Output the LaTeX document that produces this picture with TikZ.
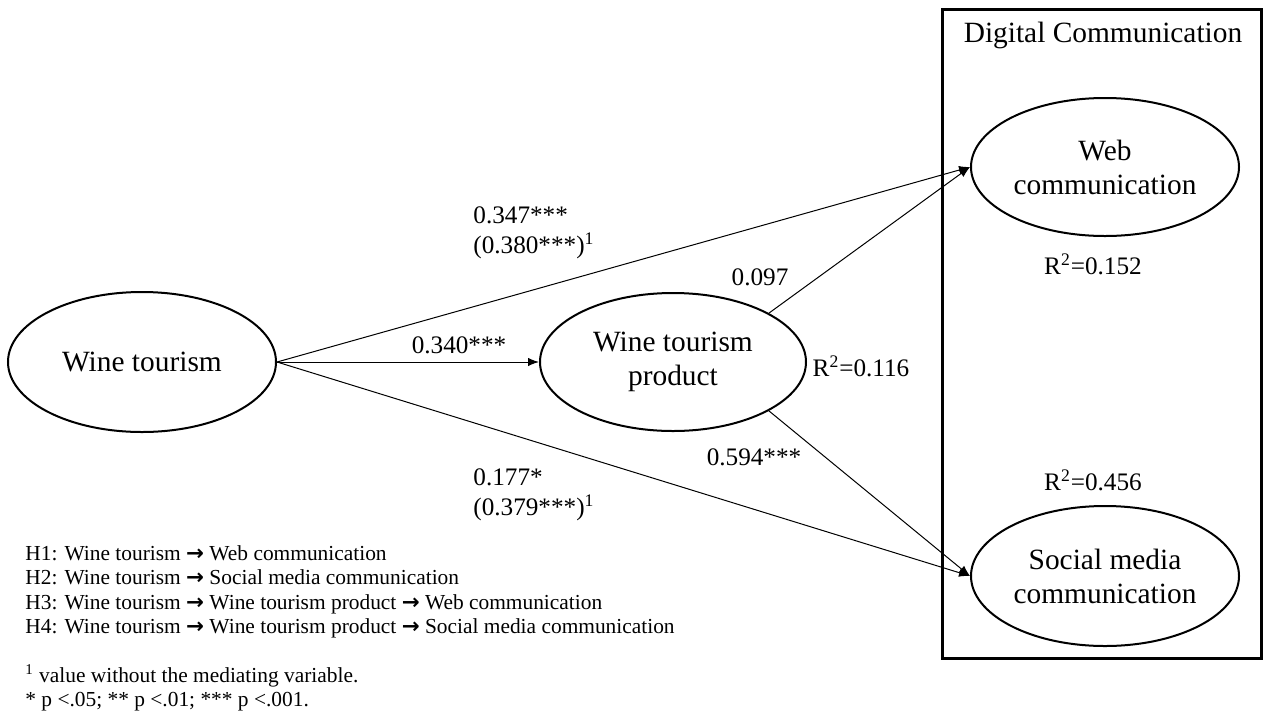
\documentclass[tikz,border=0pt]{standalone}
\usepackage{fontspec}
\setmainfont{Liberation Serif}
\newfontfamily\arrowfont{DejaVu Sans}
\usepackage{tikz}
\usetikzlibrary{positioning, calc}
\usetikzlibrary{arrows.meta,shapes.geometric}
\newcommand{\hto}{{\arrowfont\bfseries →}}
\begin{document}
\begin{tikzpicture}
    [x=0.5pt, y=-0.5pt,
    post/.style={-{Latex[length=5.5pt,width=4.2pt]},draw,line width=0.5pt},
    lat/.style={ellipse,draw,line width=1pt,inner sep=0pt,minimum width=134pt,minimum height=69pt,align=center,font=\fontsize{14.7}{17}\selectfont},
    est/.style={font=\fontsize{12.6}{15}\selectfont,inner sep=0pt,align=left},
    note/.style={font=\fontsize{10.7}{12.2}\selectfont,inner sep=0pt,align=left,anchor=west}]
    \useasboundingbox (0,0) rectangle (1269,713);
    \node [lat,minimum height=70pt] (Tourism) at (142,362) {Wine tourism};
    \node [lat,minimum width=133pt,right=131pt of Tourism] (Product) {Wine tourism\\product};
    \node [lat] (Web) at (1105,167) {Web\\communication};
    \node [lat,minimum height=70pt,below=134pt of Web] (Social) {Social media\\communication};
    \draw [line width=1.5pt] (942,9) rectangle (1261,658);
    \node [font=\fontsize{14.7}{17}\selectfont] (Digital) at (1103,35) {Digital Communication};
    \draw[post] (Tourism) -- (Product);
    \draw[post] (Tourism.east) -- (Web.west);
    \draw[post] (Tourism.east) -- (Social.west);
    \draw[post] (Product.27) -- (Web.west);
    \draw[post] (Product.-27) -- (Social.west);
    \node [est] (b340) at (459,345) {0.340***};
    \node [est,anchor=west] (b347) at (473,233) {0.347***\\(0.380***)\textsuperscript{1}};
    \node [est,anchor=west] (b177) at (473,495) {0.177*\\(0.379***)\textsuperscript{1}};
    \node [est] (b097) at (760,277) {0.097};
    \node [est] (b594) at (754,457) {0.594***};
    \node [est] (rProduct) at (861,366) {R\textsuperscript{2}=0.116};
    \node [est] (rWeb) at (1093,264) {R\textsuperscript{2}=0.152};
    \node [est] (rSocial) at (1093,480) {R\textsuperscript{2}=0.456};
    \node [note] (Hyp) at (25,592) {H1: Wine tourism \hto{} Web communication\\
        H2: Wine tourism \hto{} Social media communication\\
        H3: Wine tourism \hto{} Wine tourism product \hto{} Web communication\\
        H4: Wine tourism \hto{} Wine tourism product \hto{} Social media communication};
    \node [note] (Foot) at (25,688) {\textsuperscript{1} value without the mediating variable.\\
        * p <.05; ** p <.01; *** p <.001.};
\end{tikzpicture}
\end{document}
